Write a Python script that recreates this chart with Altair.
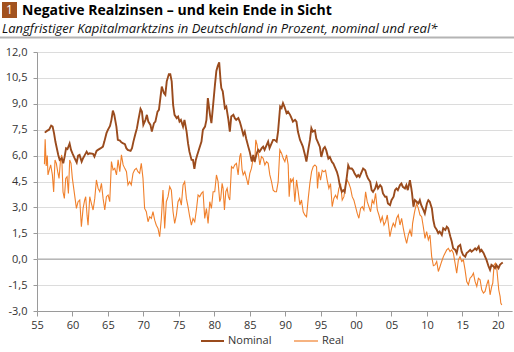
import altair as alt
import pandas as pd

# ---- data ----
nominal_year = [
    1956.1, 1956.4, 1956.7, 1957.0, 1957.2, 1957.4, 1957.6, 1958.0, 1958.2, 1958.5,
    1958.7, 1958.9, 1959.1, 1959.3, 1959.6, 1959.8, 1960.0, 1960.3, 1960.6, 1960.8,
    1961.0, 1961.3, 1961.5, 1961.7, 1962.0, 1962.2, 1962.4, 1962.9, 1963.1, 1963.4,
    1963.6, 1964.0, 1964.3, 1964.5, 1964.8, 1965.0, 1965.3, 1965.5, 1965.7, 1965.9,
    1966.2, 1966.4, 1966.7, 1966.9, 1967.1, 1967.4, 1967.6, 1967.8, 1968.2, 1968.4,
    1968.6, 1968.9, 1969.1, 1969.3, 1969.6, 1969.8, 1970.0, 1970.3, 1970.5, 1970.7,
    1971.0, 1971.2, 1971.5, 1971.7, 1972.0, 1972.2, 1972.4, 1972.6, 1972.9, 1973.1,
    1973.3, 1973.6, 1973.8, 1974.0, 1974.2, 1974.4, 1974.7, 1974.9, 1975.1, 1975.3,
    1975.6, 1975.8, 1976.1, 1976.3, 1976.5, 1976.8, 1977.0, 1977.2, 1977.4, 1977.6,
    1977.9, 1978.2, 1978.4, 1978.7, 1978.9, 1979.1, 1979.4, 1979.6, 1979.8, 1980.1,
    1980.3, 1980.5, 1980.7, 1980.9, 1981.0, 1981.2, 1981.5, 1981.7, 1982.0, 1982.2,
    1982.4, 1982.7, 1982.9, 1983.1, 1983.4, 1983.6, 1983.8, 1984.1, 1984.3, 1984.5,
    1984.8, 1985.0, 1985.3, 1985.5, 1985.7, 1986.0, 1986.2, 1986.4, 1986.7, 1986.9,
    1987.1, 1987.4, 1987.6, 1987.8, 1988.1, 1988.3, 1988.5, 1988.8, 1989.0, 1989.3,
    1989.5, 1989.7, 1989.9, 1990.2, 1990.4, 1990.7, 1990.9, 1991.1, 1991.4, 1991.6,
    1991.8, 1992.1, 1992.3, 1992.5, 1992.8, 1993.0, 1993.3, 1993.5, 1993.7, 1993.9,
    1994.2, 1994.4, 1994.6, 1994.9, 1995.1, 1995.4, 1995.6, 1995.8, 1996.1, 1996.3,
    1996.6, 1996.8, 1997.0, 1997.3, 1997.5, 1997.7, 1998.0, 1998.2, 1998.4, 1998.7,
    1998.9, 1999.1, 1999.4, 1999.6, 1999.8, 2000.1, 2000.3, 2000.5, 2000.8, 2001.0,
    2001.3, 2001.5, 2001.7, 2002.0, 2002.2, 2002.4, 2002.7, 2002.9, 2003.1, 2003.4,
    2003.6, 2003.8, 2004.1, 2004.3, 2004.5, 2004.8, 2005.0, 2005.3, 2005.5, 2005.7,
    2005.9, 2006.2, 2006.4, 2006.6, 2006.9, 2007.1, 2007.3, 2007.6, 2007.8, 2007.9,
    2008.1, 2008.3, 2008.55, 2008.8, 2009.0, 2009.2, 2009.5, 2009.7, 2010.0, 2010.2,
    2010.4, 2010.7, 2010.9, 2011.1, 2011.4, 2011.6, 2011.8, 2012.1, 2012.3, 2012.6,
    2012.8, 2013.0, 2013.3, 2013.5, 2013.7, 2014.0, 2014.2, 2014.4, 2014.7, 2014.9,
    2015.1, 2015.4, 2015.6, 2015.85, 2016.1, 2016.3, 2016.6, 2016.8, 2017.0, 2017.3,
    2017.5, 2017.7, 2018.0, 2018.2, 2018.4, 2018.7, 2018.9, 2019.1, 2019.4, 2019.6,
    2019.8, 2020.1, 2020.3, 2020.55, 2020.7,
]
nominal_value = [
    7.33, 7.43, 7.5, 7.74, 7.68, 7.3, 6.8, 6.04, 5.75, 5.85,
    5.55, 5.94, 6.43, 6.38, 6.7, 6.33, 6.13, 5.85, 5.6, 6.0,
    6.04, 5.65, 5.85, 6.0, 6.23, 6.08, 6.13, 6.1, 5.94, 6.27,
    6.33, 6.43, 6.52, 6.81, 7.3, 7.49, 7.72, 8.07, 8.61, 8.36,
    7.68, 6.91, 6.87, 6.77, 6.72, 6.66, 6.43, 6.33, 6.27, 6.43,
    6.81, 7.3, 7.59, 8.07, 8.71, 8.55, 7.78, 8.07, 8.36, 7.97,
    7.78, 7.39, 7.88, 7.97, 8.55, 8.65, 9.33, 10.0, 9.62, 9.52,
    10.3, 10.72, 10.72, 10.3, 8.94, 8.36, 8.17, 8.26, 7.97, 8.07,
    7.68, 8.07, 7.39, 6.72, 6.23, 5.75, 5.75, 5.23, 5.75, 6.04,
    6.43, 6.81, 7.49, 7.68, 8.07, 9.33, 8.36, 7.88, 8.75, 10.1,
    10.9, 11.2, 11.4, 10.3, 9.91, 9.72, 8.75, 8.84, 8.07, 7.39,
    8.26, 8.36, 8.17, 8.07, 8.17, 7.97, 7.68, 7.2, 7.39, 6.99,
    6.52, 6.23, 5.65, 6.04, 5.65, 6.13, 6.33, 6.23, 6.43, 6.52,
    6.33, 6.62, 6.81, 6.43, 6.72, 6.91, 6.91, 6.81, 7.39, 8.84,
    8.75, 9.04, 8.84, 8.46, 8.55, 8.36, 8.17, 7.97, 8.07, 7.97,
    7.39, 6.91, 6.72, 6.52, 6.04, 5.65, 6.43, 6.91, 7.59, 7.39,
    7.46, 6.98, 6.8, 6.5, 5.92, 6.4, 6.5, 6.3, 5.83, 5.92,
    5.63, 5.54, 5.35, 5.06, 4.77, 4.29, 3.9, 4.0, 3.9, 4.77,
    5.44, 5.25, 5.25, 5.15, 4.96, 4.77, 4.87, 4.77, 5.06, 5.25,
    5.15, 4.87, 4.67, 4.48, 4.0, 3.9, 4.1, 4.38, 4.1, 4.29,
    4.19, 3.81, 3.62, 3.62, 3.23, 3.13, 3.42, 3.62, 4.0, 4.1,
    4.0, 4.29, 4.38, 4.19, 4.1, 4.29, 4.0, 4.58, 4.1, 3.81,
    3.04, 3.42, 3.33, 3.23, 3.42, 3.13, 2.85, 2.65, 3.23, 3.42,
    3.33, 2.94, 2.27, 1.88, 1.69, 1.5, 1.6, 1.4, 1.79, 1.69,
    1.88, 1.79, 1.31, 1.02, 0.63, 0.54, 0.35, 0.73, 0.83, 0.44,
    0.25, 0.15, 0.35, 0.44, 0.54, 0.44, 0.54, 0.63, 0.54, 0.73,
    0.44, 0.54, 0.35, 0.15, -0.04, -0.42, -0.62, -0.33, -0.42, -0.52,
    -0.33, -0.52, -0.33, -0.23, -0.19,
]

real_year = [
    1956.05, 1956.15, 1956.3, 1956.45, 1956.55, 1956.79, 1956.93, 1957.17, 1957.35, 1957.54,
    1957.73, 1957.92, 1958.11, 1958.3, 1958.48, 1958.67, 1958.86, 1959.05, 1959.24, 1959.43,
    1959.61, 1959.8, 1959.99, 1960.18, 1960.37, 1960.56, 1960.79, 1961.03, 1961.26, 1961.5,
    1961.73, 1961.87, 1962.06, 1962.2, 1962.44, 1962.67, 1962.91, 1963.15, 1963.38, 1963.62,
    1963.85, 1964.09, 1964.32, 1964.56, 1964.79, 1965.03, 1965.26, 1965.5, 1965.73, 1965.97,
    1966.21, 1966.44, 1966.68, 1966.91, 1967.15, 1967.38, 1967.62, 1967.83, 1968.07, 1968.3,
    1968.54, 1968.77, 1969.01, 1969.24, 1969.48, 1969.71, 1969.95, 1970.18, 1970.42, 1970.66,
    1970.89, 1971.13, 1971.36, 1971.6, 1971.83, 1972.07, 1972.3, 1972.54, 1972.77, 1973.01,
    1973.24, 1973.48, 1973.72, 1973.95, 1974.19, 1974.42, 1974.66, 1974.89, 1975.13, 1975.36,
    1975.6, 1975.83, 1976.07, 1976.3, 1976.54, 1976.78, 1977.01, 1977.25, 1977.48, 1977.72,
    1977.95, 1978.19, 1978.42, 1978.66, 1978.9, 1979.13, 1979.37, 1979.6, 1979.84, 1980.07,
    1980.31, 1980.54, 1980.78, 1980.92, 1981.11, 1981.25, 1981.44, 1981.63, 1981.82, 1982.0,
    1982.19, 1982.43, 1982.66, 1982.9, 1983.13, 1983.37, 1983.6, 1983.75, 1983.93, 1984.08,
    1984.31, 1984.55, 1984.78, 1985.02, 1985.25, 1985.49, 1985.72, 1985.86, 1986.05, 1986.24,
    1986.43, 1986.66, 1986.9, 1987.14, 1987.37, 1987.61, 1987.84, 1988.08, 1988.31, 1988.55,
    1988.78, 1989.02, 1989.25, 1989.49, 1989.73, 1989.96, 1990.2, 1990.43, 1990.57, 1990.76,
    1990.9, 1991.14, 1991.37, 1991.61, 1991.84, 1992.08, 1992.31, 1992.55, 1992.79, 1993.02,
    1993.26, 1993.49, 1993.73, 1993.96, 1994.2, 1994.43, 1994.57, 1994.75, 1994.99, 1995.23,
    1995.46, 1995.7, 1995.93, 1996.17, 1996.4, 1996.64, 1996.87, 1997.11, 1997.34, 1997.58,
    1997.82, 1998.05, 1998.29, 1998.52, 1998.76, 1999.0, 1999.23, 1999.46, 1999.7, 1999.93,
    2000.17, 2000.4, 2000.64, 2000.88, 2001.11, 2001.35, 2001.58, 2001.82, 2002.05, 2002.29,
    2002.52, 2002.76, 2003.0, 2003.23, 2003.47, 2003.7, 2003.94, 2004.17, 2004.41, 2004.64,
    2004.78, 2005.02, 2005.25, 2005.49, 2005.72, 2005.96, 2006.2, 2006.43, 2006.67, 2006.9,
    2007.14, 2007.37, 2007.61, 2007.84, 2007.98, 2008.22, 2008.32, 2008.55, 2008.79, 2009.02,
    2009.26, 2009.49, 2009.73, 2009.96, 2010.2, 2010.43, 2010.67, 2010.91, 2011.14, 2011.38,
    2011.61, 2011.85, 2012.08, 2012.32, 2012.55, 2012.79, 2013.02, 2013.26, 2013.5, 2013.73,
    2013.97, 2014.2, 2014.44, 2014.67, 2014.91, 2015.14, 2015.38, 2015.61, 2015.85, 2016.08,
    2016.32, 2016.56, 2016.79, 2017.03, 2017.26, 2017.5, 2017.73, 2017.97, 2018.2, 2018.44,
    2018.67, 2018.91, 2019.14, 2019.29, 2019.47, 2019.66, 2019.85, 2020.0, 2020.13, 2020.32,
    2020.42, 2020.56,
]
real_value = [
    5.5, 6.95, 5.4, 6.0, 4.88, 5.26, 5.46, 4.88, 3.9, 5.75,
    5.55, 5.07, 4.68, 5.65, 6.04, 3.9, 3.52, 4.68, 4.78, 3.81,
    5.75, 5.55, 4.68, 4.1, 3.52, 2.94, 3.33, 3.43, 1.88, 2.94,
    3.43, 3.62, 2.55, 1.97, 3.62, 3.23, 2.85, 3.52, 4.59, 4.1,
    3.91, 4.39, 3.52, 2.85, 3.62, 3.72, 3.33, 5.65, 5.17, 5.26,
    4.88, 5.75, 5.07, 6.04, 5.46, 5.26, 5.07, 4.3, 4.49, 4.3,
    4.97, 5.17, 5.26, 5.07, 4.97, 5.55, 4.68, 2.94, 2.75, 2.17,
    2.46, 2.36, 2.75, 2.26, 1.97, 1.78, 1.3, 2.36, 4.0, 1.78,
    3.33, 3.62, 4.2, 4.0, 2.75, 2.07, 2.55, 3.33, 3.52, 3.13,
    4.3, 4.49, 3.52, 3.04, 2.46, 1.97, 2.36, 2.17, 2.85, 3.72,
    3.62, 3.81, 3.91, 2.36, 2.94, 2.07, 3.33, 2.94, 3.91, 3.91,
    4.88, 4.49, 3.33, 3.52, 4.39, 4.1, 2.85, 3.91, 4.1, 3.62,
    3.43, 5.36, 5.26, 5.46, 5.55, 4.88, 5.94, 6.14, 5.17, 4.88,
    5.07, 4.68, 4.3, 4.97, 5.26, 5.84, 5.65, 6.91, 6.62, 6.04,
    5.46, 5.94, 5.84, 5.46, 5.65, 5.55, 4.88, 4.49, 4.0, 3.91,
    3.91, 4.49, 6.33, 6.14, 5.84, 5.65, 6.04, 5.46, 3.62, 4.68,
    4.49, 4.68, 3.33, 4.59, 3.91, 3.14, 3.43, 2.75, 2.55, 2.46,
    3.52, 4.39, 5.07, 5.36, 5.46, 5.36, 4.1, 5.06, 4.58, 5.15,
    5.06, 5.15, 4.58, 4.1, 4.38, 3.04, 3.52, 3.71, 3.52, 4.1,
    4.38, 3.42, 3.62, 4.29, 4.58, 4.38, 4.1, 3.62, 3.42, 3.04,
    2.65, 2.37, 2.94, 3.04, 2.85, 3.9, 3.33, 3.04, 2.75, 3.42,
    3.23, 3.81, 2.85, 2.56, 2.17, 2.46, 1.98, 2.17, 2.56, 1.79,
    1.31, 1.79, 2.08, 1.88, 2.37, 2.56, 1.98, 2.37, 1.79, 1.31,
    0.92, 1.4, 1.69, 1.31, 2.08, 2.65, 2.85, 3.23, 2.94, 2.56,
    2.46, 1.88, 1.21, 1.6, 1.12, 1.4, 0.15, -0.38, -0.33, -0.13,
    -0.71, -0.42, -0.13, 0.15, 0.35, 0.54, 0.63, 0.44, 0.54, 0.35,
    -0.23, -0.81, -0.04, 0.15, -0.13, -0.04, -0.62, -1.29, -1.48, -1.1,
    -1.0, -0.81, -1.29, -1.58, -1.1, -1.19, -1.77, -1.96, -1.87, -1.48,
    -1.19, -2.06, -1.58, -1.38, -0.33, -0.23, -0.52, -1.19, -1.77, -2.15,
    -2.54, -2.65,
]

x_tick_years = [1955, 1960, 1965, 1970, 1975, 1980, 1985, 1990, 1995, 2000, 2005, 2010, 2015, 2020]
y_ticks = [-3.0, -1.5, 0.0, 1.5, 3.0, 4.5, 6.0, 7.5, 9.0, 10.5, 12.0]
series_names = ["Nominal", "Real"]
title_number = "1"
title_text = "Negative Realzinsen – und kein Ende in Sicht"
subtitle_text = "Langfristiger Kapitalmarktzins in Deutschland in Prozent, nominal und real*"

# ---- styles ----
FONT = "Open Sans"
C_NOM = "#9a4b1d"
C_REAL = "#f0802c"
C_BOX = "#a2521f"

nom_df = pd.DataFrame({"year": nominal_year, "value": nominal_value})
real_df = pd.DataFrame({"year": real_year, "value": real_value})
zero_df = pd.DataFrame({"value": [0.0]})
one = pd.DataFrame({"k": [0]})

xscale = alt.Scale(domain=[1955, 2022], nice=False, zero=False)
yscale = alt.Scale(domain=[-3, 12], nice=False, zero=False)

x_axis = alt.Axis(
    values=x_tick_years,
    labelExpr="substring(toString(datum.value), 2)",
    labelOverlap=False, labelFlush=False,
    grid=False, domainColor="#9a9a9a", tickColor="#9a9a9a", tickSize=5,
    labelFont=FONT, labelFontSize=11, labelColor="#333333", labelPadding=3,
    title=None,
)
y_axis = alt.Axis(
    values=y_ticks,
    labelExpr="replace(replace(format(datum.value, '.1f'), '.', ','), '\u2212', '-')",
    labelOverlap=False, labelFlush=False,
    grid=True, gridColor="#dcdcdc", gridWidth=1,
    domainColor="#9a9a9a", tickColor="#9a9a9a", tickSize=4,
    labelFont=FONT, labelFontSize=11, labelColor="#333333", labelPadding=6,
    title=None,
)

X = alt.X("year:Q", scale=xscale, axis=x_axis)
Y = alt.Y("value:Q", scale=yscale, axis=y_axis)

zero_rule = alt.Chart(zero_df).mark_rule(color="#ababab", strokeWidth=1.2).encode(y=Y)
real_line = alt.Chart(real_df).mark_line(color=C_REAL, strokeWidth=1.1).encode(x=X, y=Y)
nom_line = alt.Chart(nom_df).mark_line(color=C_NOM, strokeWidth=1.9).encode(x=X, y=Y)

# ---- title block ----
box = alt.Chart(one).mark_rect(color=C_BOX).encode(
    x=alt.value(-35), x2=alt.value(-20), y=alt.value(-50), y2=alt.value(-34)
)
box_num = alt.Chart(one).mark_text(
    text=title_number, color="white", font=FONT, fontSize=12, align="center", baseline="middle"
).encode(x=alt.value(-27.5), y=alt.value(-42.5))
title = alt.Chart(one).mark_text(
    text=title_text, color="#000000", font=FONT, fontSize=14, fontWeight="bold",
    align="left", baseline="alphabetic"
).encode(x=alt.value(-15), y=alt.value(-37.5))
subtitle = alt.Chart(one).mark_text(
    text=subtitle_text, color="#111111", font=FONT, fontSize=13, fontStyle="italic",
    align="left", baseline="alphabetic"
).encode(x=alt.value(-35), y=alt.value(-19.5))
sep = alt.Chart(one).mark_rule(color="#b4b4b4", strokeWidth=2).encode(
    x=alt.value(-37), x2=alt.value(477), y=alt.value(-14.5)
)

# ---- legend ----
leg_y = 289
leg_nom_line = alt.Chart(one).mark_rule(color=C_NOM, strokeWidth=2).encode(
    x=alt.value(164), x2=alt.value(187), y=alt.value(leg_y)
)
leg_nom_text = alt.Chart(one).mark_text(
    text=series_names[0], font=FONT, fontSize=11, color="#333333", align="left", baseline="middle"
).encode(x=alt.value(191), y=alt.value(leg_y))
leg_real_line = alt.Chart(one).mark_rule(color=C_REAL, strokeWidth=1.2).encode(
    x=alt.value(257), x2=alt.value(281), y=alt.value(leg_y)
)
leg_real_text = alt.Chart(one).mark_text(
    text=series_names[1], font=FONT, fontSize=11, color="#333333", align="left", baseline="middle"
).encode(x=alt.value(285), y=alt.value(leg_y))

chart = alt.layer(
    zero_rule, real_line, nom_line,
    box, box_num, title, subtitle, sep,
    leg_nom_line, leg_nom_text, leg_real_line, leg_real_text,
).properties(
    width=475, height=259,
    padding={"left": 37, "top": 52, "right": 2, "bottom": 41},
    autosize=alt.AutoSizeParams(type="none"),
    background="white",
).configure_view(stroke=None)

chart.save("out.html", embed_options={"renderer": "svg", "actions": False})
